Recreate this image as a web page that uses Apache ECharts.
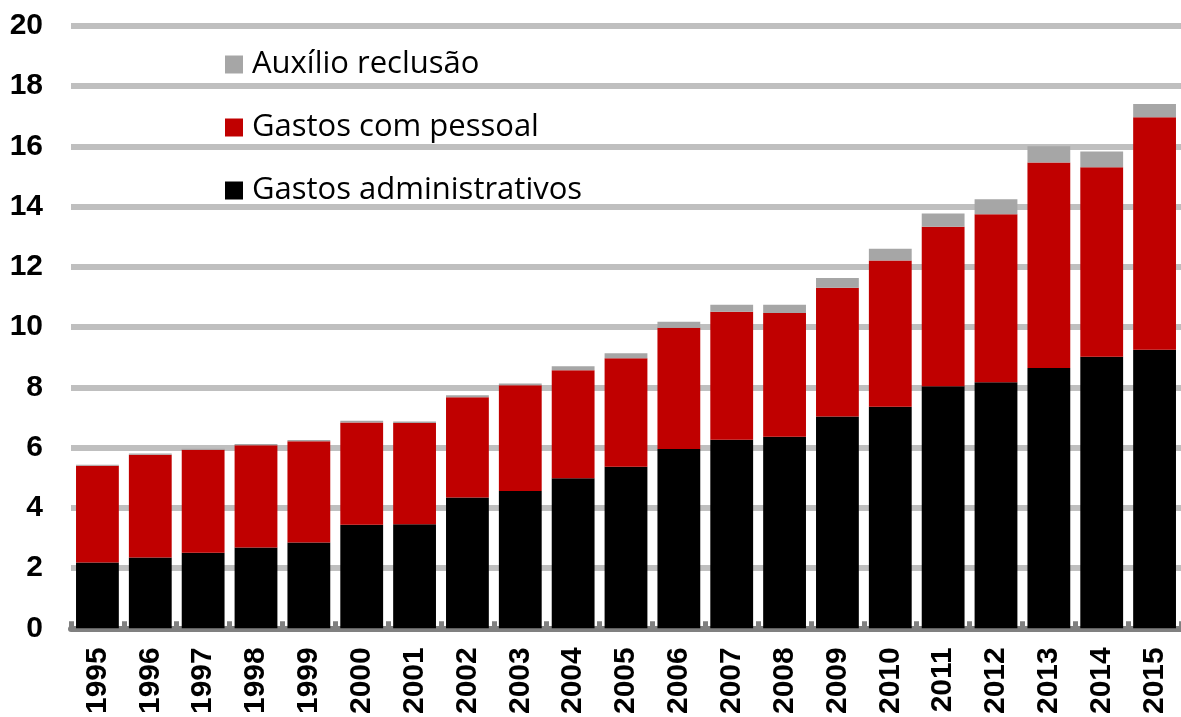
<!DOCTYPE html>
<html>
<head>
<meta charset="utf-8">
<script src="https://cdn.jsdelivr.net/npm/echarts@6/dist/echarts.min.js"></script>
<style>
  html, body { margin: 0; padding: 0; background: #fff; }
  #chart { width: 1181px; height: 717px; }
</style>
</head>
<body>
<div id="chart"></div>
<script>
const anos = ['1995','1996','1997','1998','1999','2000','2001','2002','2003','2004','2005',
  '2006','2007','2008','2009','2010','2011','2012','2013','2014','2015'];
const gastosAdministrativos = [2.18,2.35,2.51,2.68,2.85,3.44,3.45,4.34,4.56,4.98,5.36,
  5.95,6.26,6.36,7.03,7.36,8.04,8.17,8.64,9.02,9.25];
const gastosPessoal = [3.22,3.41,3.42,3.40,3.36,3.39,3.37,3.33,3.51,3.59,3.61,
  4.03,4.25,4.11,4.28,4.85,5.29,5.58,6.83,6.29,7.72];
const auxilioReclusao = [0.03,0.04,0.03,0.04,0.04,0.06,0.05,0.07,0.06,0.13,0.16,
  0.20,0.23,0.27,0.32,0.39,0.44,0.50,0.54,0.52,0.44];
const yTicks = [0,2,4,6,8,10,12,14,16,18,20];

const chart = echarts.init(document.getElementById('chart'));

const option = {
  animation: false,
  textStyle: { fontFamily: 'Liberation Sans, Arial, sans-serif' },
  grid: { left: 71, top: 26, width: 1121, bottom: 86, containLabel: false },
  legend: {
    orient: 'vertical',
    left: 220,
    top: 44,
    itemWidth: 18,
    itemHeight: 18,
    itemGap: 32,
    icon: 'rect',
    data: ['Auxílio reclusão', 'Gastos com pessoal', 'Gastos administrativos'],
    textStyle: { fontFamily: 'Open Sans', fontSize: 31, color: '#000', padding: [0, 0, 0, 4] }
  },
  xAxis: {
    type: 'category',
    data: anos,
    axisLine: { show: true, lineStyle: { color: '#808080', width: 6 } },
    axisTick: { show: true, inside: true, length: 7, lineStyle: { color: '#808080', width: 5 } },
    axisLabel: {
      rotate: 90,
      margin: 19,
      color: '#000',
      fontWeight: 'bold',
      fontSize: 30,
      fontFamily: 'Liberation Sans'
    },
    splitLine: { show: false }
  },
  yAxis: {
    type: 'value',
    min: yTicks[0],
    max: yTicks[yTicks.length - 1],
    interval: 2,
    axisLine: { show: false },
    axisTick: { show: false },
    axisLabel: {
      margin: 28,
      color: '#000',
      fontWeight: 'bold',
      fontSize: 30,
      fontFamily: 'Liberation Sans'
    },
    splitLine: { show: true, lineStyle: { color: '#bfbfbf', width: 6 } }
  },
  series: [
    {
      name: 'Gastos administrativos',
      type: 'bar',
      stack: 'total',
      barCategoryGap: '19%',
      data: gastosAdministrativos,
      itemStyle: { color: '#000000' }
    },
    {
      name: 'Gastos com pessoal',
      type: 'bar',
      stack: 'total',
      data: gastosPessoal,
      itemStyle: { color: '#c00000' }
    },
    {
      name: 'Auxílio reclusão',
      type: 'bar',
      stack: 'total',
      data: auxilioReclusao,
      itemStyle: { color: '#a6a6a6' }
    }
  ]
};

chart.setOption(option);
window.addEventListener('resize', () => chart.resize());
</script>
</body>
</html>
